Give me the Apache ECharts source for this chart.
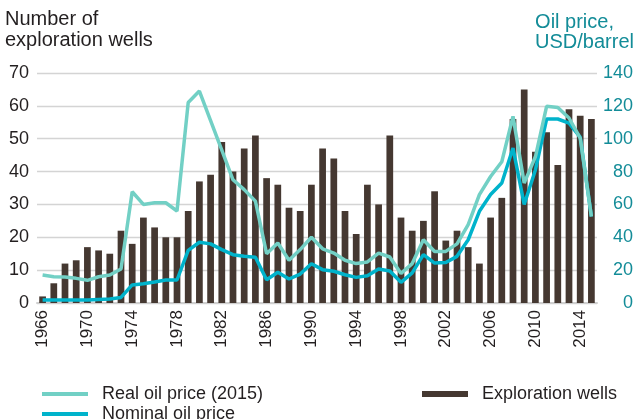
<!DOCTYPE html>
<html>
<head>
<meta charset="utf-8">
<script src="https://cdn.jsdelivr.net/npm/echarts@6/dist/echarts.min.js"></script>
<style>
    html, body { margin: 0; padding: 0; background: #fff; }
    #chart { width: 636px; height: 419px; }
</style>
</head>
<body>
<div id="chart"></div>
<script>
// years 1966-2015
const years = [];
for (let y = 1966; y <= 2015; y++) years.push(String(y));

// number of exploration wells
const wells = [2, 6, 12, 13, 17, 16, 15, 22, 18, 26,
    23, 20, 20, 28, 37, 39, 49, 40, 47, 51,
    38, 36, 29, 28, 36, 47, 44, 28, 21, 36,
    30, 51, 26, 22, 25, 34, 19, 22, 17, 12,
    26, 32, 56, 65, 46, 52, 42, 59, 57, 56];

// real oil price (2015 USD/barrel)
const realPrice = [17, 16, 15.8, 15, 13.8, 16, 17, 20.7, 67.7, 60,
    61, 61, 56, 122, 129, 111, 93, 75, 69, 62,
    30, 36.5, 26, 32.5, 40, 33, 30.4, 26, 24, 25,
    30.4, 28, 18, 24, 38.5, 31.4, 31.4, 36, 47.7, 66,
    77, 86, 113.6, 73, 89, 119.7, 119, 112.6, 100.4, 52.7];

// nominal oil price (USD/barrel)
const nominalPrice = [1.8, 1.8, 1.8, 1.8, 1.8, 2.2, 2.5, 3.4, 11, 11.7,
    12.8, 14, 14, 32, 37, 36, 32.5, 29.4, 28.4, 27.8,
    14.2, 18.7, 14.6, 17.6, 23.9, 20.3, 19.3, 17.2, 15.6, 16.6,
    20.7, 19.5, 12.6, 18.3, 29.4, 24.3, 24.7, 28.4, 38.5, 55.8,
    66, 73, 94.3, 60, 81, 112, 112, 109.5, 101, 52.7];

const FONT = "'Liberation Sans', Arial, sans-serif";
const TEXT_COLOR = "#231f20";
const TEAL_TEXT = "#138c98";
const BAR_COLOR = "#453831";
const REAL_COLOR = "#72d0c5";
const NOMINAL_COLOR = "#00b3cb";

let chart = echarts.init(document.getElementById("chart"));

//图例公共样式
function legendItem(name, left, top, h) {
    return {
        data: [name],
        left: left, top: top,
        icon: "rect", itemWidth: 46, itemHeight: h,
        textStyle: { fontSize: 18, color: TEXT_COLOR, padding: [0, 0, 0, 9] }
    };
}

let option = {
    animation: false,
    textStyle: { fontFamily: FONT },
    grid: { left: 37, right: 38, top: 73, bottom: 116 },
    graphic: [
        {
            type: "text", left: 5, top: 9,
            style: {
                text: "Number of\nexploration wells",
                font: "20px " + FONT, fill: TEXT_COLOR, lineHeight: 21
            }
        },
        {
            type: "text", right: 2, top: 12,
            style: {
                text: "Oil price,\nUSD/barrel", align: "right",
                font: "20px " + FONT, fill: TEAL_TEXT, lineHeight: 20
            }
        }
    ],
    legend: [
        legendItem("Real oil price (2015)", 37, 380, 4),
        legendItem("Nominal oil price", 37, 400, 4),
        legendItem("Exploration wells", 417, 380, 6)
    ],
    xAxis: {
        type: "category",
        data: years,
        axisLine: { lineStyle: { color: "#cfcfcf", width: 2 } },
        axisTick: { show: false },
        axisLabel: {
            interval: 3, rotate: 90, margin: 7,
            fontSize: 17, color: TEXT_COLOR
        }
    },
    yAxis: [
        {
            type: "value", min: 0, max: 70, interval: 10,
            axisLine: { show: false }, axisTick: { show: false },
            axisLabel: { fontSize: 18, color: TEXT_COLOR, margin: 8 },
            splitLine: { lineStyle: { color: "#d4d4d4", width: 1.3 } }
        },
        {
            type: "value", min: 0, max: 140, interval: 20,
            axisLine: { show: false }, axisTick: { show: false },
            axisLabel: { fontSize: 18, color: TEAL_TEXT, margin: 36, align: "right" },
            splitLine: { show: false }
        }
    ],
    series: [
        {
            name: "Exploration wells",
            type: "bar",
            data: wells,
            barWidth: "60%",
            itemStyle: { color: BAR_COLOR }
        },
        {
            name: "Nominal oil price",
            type: "line",
            yAxisIndex: 1,
            data: nominalPrice,
            showSymbol: false,
            lineStyle: { width: 3.5, color: NOMINAL_COLOR },
            itemStyle: { color: NOMINAL_COLOR }
        },
        {
            name: "Real oil price (2015)",
            type: "line",
            yAxisIndex: 1,
            data: realPrice,
            showSymbol: false,
            lineStyle: { width: 3.5, color: REAL_COLOR },
            itemStyle: { color: REAL_COLOR }
        }
    ]
};

chart.setOption(option);
</script>
</body>
</html>
